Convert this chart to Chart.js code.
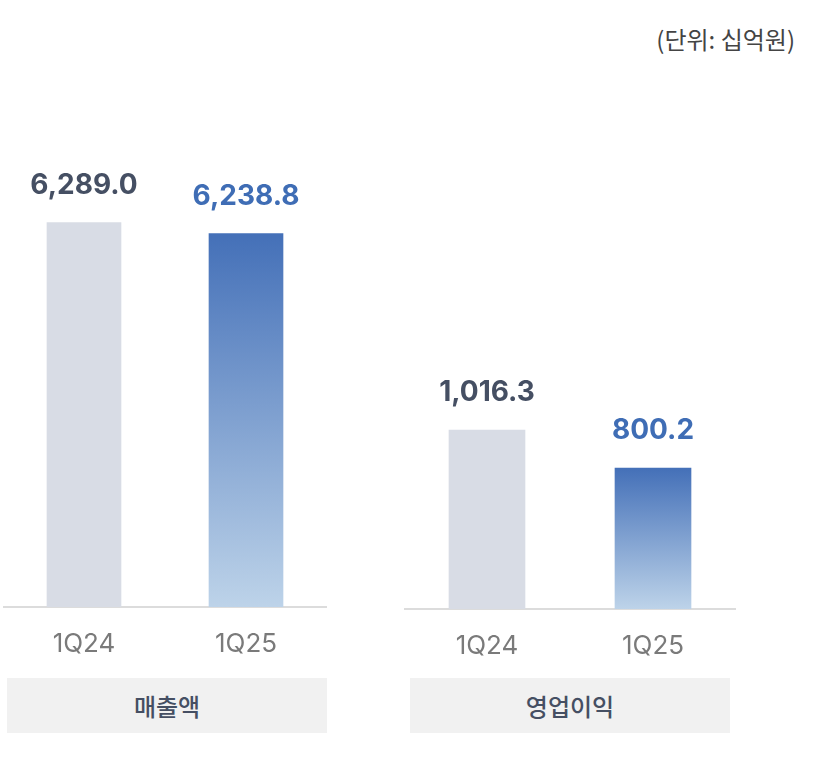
<!DOCTYPE html>
<html><head><meta charset="utf-8">
<script src="https://cdn.jsdelivr.net/npm/chart.js@4"></script>
<style>
html,body{margin:0;padding:0;background:#fff;width:830px;height:772px;overflow:hidden;}
#wrap{position:relative;width:830px;height:772px;}
.cv{position:absolute;top:0;}
.box{position:absolute;top:678px;height:55px;width:320px;background:#f1f1f1;color:#454f63;font-family:"Noto Sans CJK KR","Noto Sans",sans-serif;font-size:24px;font-weight:500;display:flex;align-items:center;justify-content:center;}
#unit{position:absolute;top:21px;right:35px;font-family:"Noto Sans CJK KR",sans-serif;font-size:24px;color:#444;}
</style></head>
<body><div id="wrap">
<div id="unit">(단위: 십억원)</div>
<div class="cv" style="left:3px;width:324px;height:680px;"><canvas id="c1"></canvas></div>
<div class="cv" style="left:404px;width:332px;height:680px;"><canvas id="c2"></canvas></div>
<div class="box" id="b1" style="left:7px;"></div>
<div class="box" id="b2" style="left:410px;"></div>
</div>
<script>
const categories = ["1Q24", "1Q25"];
const groupTitles = ["매출액", "영업이익"];
const revenue = [6289.0, 6238.8];
const operatingProfit = [1016.3, 800.2];
const valueLabels1 = ["6,289.0", "6,238.8"];
const valueLabels2 = ["1,016.3", "800.2"];

document.getElementById('b1').textContent = groupTitles[0];
document.getElementById('b2').textContent = groupTitles[1];

const GRAY = '#d8dce5';
const BLUE_TOP = '#4470b8';
const BLUE_BOT = '#bdd3e9';
const LABEL_DARK = '#454f63';
const LABEL_BLUE = '#3f6db5';

function barColor(ctx){
  if (ctx.dataIndex === 0) return GRAY;
  const chart = ctx.chart;
  const area = chart.chartArea;
  if (!area) return BLUE_TOP;
  const y = chart.scales.y;
  const top = y.getPixelForValue(ctx.raw);
  const bot = area.bottom;
  const g = chart.ctx.createLinearGradient(0, top, 0, bot);
  g.addColorStop(0, BLUE_TOP);
  g.addColorStop(1, BLUE_BOT);
  return g;
}

const valuePlugin = {
  id: 'valueLabels',
  afterDatasetsDraw(chart, args, opts){
    const ctx = chart.ctx;
    const meta = chart.getDatasetMeta(0);
    ctx.save();
    ctx.font = 'bold 28px Inter, "Noto Sans", sans-serif';
    ctx.textAlign = 'center';
    ctx.textBaseline = 'alphabetic';
    meta.data.forEach((el, i) => {
      ctx.fillStyle = i === 0 ? LABEL_DARK : LABEL_BLUE;
      ctx.fillText(opts.labels[i], el.x, el.y - 29);
    });
    ctx.restore();
  }
};

function makeChart(id, values, labels, yMin, yMax, barW, xH){
  return new Chart(document.getElementById(id), {
    type: 'bar',
    data: { labels: categories, datasets: [{ data: values, backgroundColor: barColor, barThickness: barW, borderWidth: 0 }] },
    options: {
      responsive: true, maintainAspectRatio: false, animation: false,
      layout: { padding: { top: 100, left: 0, right: 0, bottom: 0 } },
      plugins: { legend: { display: false }, tooltip: { enabled: false }, valueLabels: { labels } },
      scales: {
        y: { display: false, min: yMin, max: yMax },
        x: {
          grid: { display: false, drawTicks: false },
          border: { display: true, color: '#dcdcdc', width: 2 },
          ticks: { color: '#7a7a7a', font: { family: 'Inter, "Noto Sans", sans-serif', size: 26 }, padding: 22 },
          afterFit(scale){ scale.height = xH; }
        }
      }
    },
    plugins: [valuePlugin]
  });
}

makeChart('c1', revenue, valueLabels1, 4530, 6850, 74, 73);
makeChart('c2', operatingProfit, valueLabels2, 0, 2890, 76, 71);
</script>
</body></html>
